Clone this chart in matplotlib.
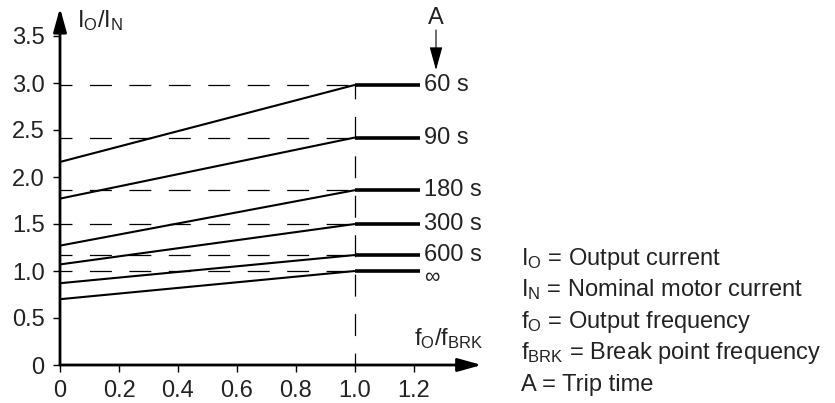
import matplotlib
matplotlib.use('Agg')
import matplotlib.pyplot as plt

plt.rcParams['font.family'] = ['Liberation Sans', 'DejaVu Sans']
plt.rcParams['mathtext.fontset'] = 'custom'
plt.rcParams['mathtext.rm'] = 'Liberation Sans'
plt.rcParams['mathtext.it'] = 'Liberation Sans:italic'
plt.rcParams['lines.scale_dashes'] = False

# ---- data ----
x_ticks = [0, 0.2, 0.4, 0.6, 0.8, 1.0, 1.2]
x_tick_labels = ['0', '0.2', '0.4', '0.6', '0.8', '1.0', '1.2']
y_ticks = [0, 0.5, 1.0, 1.5, 2.0, 2.5, 3.0, 3.5]
y_tick_labels = ['0', '0.5', '1.0', '1.5', '2.0', '2.5', '3.0', '3.5']

trip_labels = ['60 s', '90 s', '180 s', '300 s', '600 s', r'$\infty$']
start_ratio = [2.16, 1.77, 1.27, 1.07, 0.87, 0.70]   # I_O/I_N at f_O/f_BRK = 0
break_ratio = [2.98, 2.42, 1.86, 1.50, 1.17, 1.00]   # I_O/I_N at f_O/f_BRK >= 1
freq_start = 0.0
freq_break = 1.0
freq_end = 1.22

legend_lines = [r'$\mathregular{I_O}$ = Output current',
                r'$\mathregular{I_N}$ = Nominal motor current',
                r'$\mathregular{f_O}$ = Output frequency',
                r'$\mathregular{f_{BRK}}$ = Break point frequency',
                'A = Trip time']

FS = 17
W, H = 835, 403
fig = plt.figure(figsize=(W / 100, H / 100), dpi=100)
# axes: origin at pixel (60, 365); x 295 px/unit, y 94 px/unit
x_max = (481.7 - 60) / 295
y_max = (365 - 8) / 94
ax = fig.add_axes([60 / W, (H - 365) / H, (481.7 - 60) / W, (365 - 8) / H])
ax.set_xlim(0, x_max)
ax.set_ylim(0, y_max)
for s in ax.spines.values():
    s.set_visible(False)
ax.patch.set_visible(False)

ax.set_xticks(x_ticks, x_tick_labels)
ax.set_yticks(y_ticks, y_tick_labels)
ax.tick_params(axis='both', direction='out', length=5, width=1.0,
               labelsize=FS, color='black', labelcolor='#222222')
ax.tick_params(axis='x', pad=5.5)
ax.tick_params(axis='y', pad=6)

# axis arrows
arrow_kw = dict(arrowstyle='-|>,head_length=14.4,head_width=4', mutation_scale=1,
                lw=2, color='black', shrinkA=0, shrinkB=0)
ax.annotate('', xy=(0, y_max), xytext=(0, 0), arrowprops=arrow_kw,
            annotation_clip=False)
ax.annotate('', xy=(x_max, 0), xytext=(0, 0), arrowprops=arrow_kw,
            annotation_clip=False)

dash = (7.2, (15.8, 12.6))
# dashed reference lines
for yb in break_ratio:
    ax.plot([freq_start, freq_break], [yb, yb], color='black', lw=0.9,
            linestyle=dash, zorder=1, clip_on=False)
ax.plot([freq_break, freq_break], [0, max(break_ratio)], color='black', lw=0.9,
        linestyle=dash, zorder=1, clip_on=False)

# curves
for lab, y0, yb in zip(trip_labels, start_ratio, break_ratio):
    ax.plot([freq_start, freq_break], [y0, yb], color='black', lw=1.5,
            zorder=3, clip_on=False, solid_capstyle='butt')
    ax.plot([freq_break, freq_end], [yb, yb], color='black', lw=2.6,
            zorder=3, clip_on=False, solid_capstyle='butt')
    if lab.startswith('$'):
        ax.annotate(lab, (freq_end + 0.015, yb), xytext=(0, -3),
                    textcoords='offset points', fontsize=FS * 0.92,
                    va='center', ha='left', color='#222222')
    else:
        ax.text(freq_end + 0.015, yb, lab, fontsize=FS, va='center',
                ha='left', color='#222222')

# trip time arrow
ax.annotate('', xy=(1.2746, (365 - 70) / 94), xytext=(1.2746, (365 - 30) / 94),
            arrowprops=dict(arrowstyle='-|>,head_length=14.4,head_width=4',
                            mutation_scale=1, lw=0.8, color='black',
                            shrinkA=0, shrinkB=0),
            annotation_clip=False)
ax.text(1.2746, (365 - 18) / 94, 'A', fontsize=FS, ha='center', va='center',
        color='#222222')

# axis labels
ax.text(0.0576, (365 - 27) / 94, r'$\mathregular{I_O/I_N}$', fontsize=FS,
        ha='left', va='baseline', color='#222222')
ax.text(1.20, (365 - 345) / 94, r'$\mathregular{f_O/f_{BRK}}$', fontsize=FS,
        ha='left', va='baseline', color='#222222')

# legend text
baselines = [265, 296.5, 328, 359.5, 391]
for txt, b in zip(legend_lines, baselines):
    fig.text(521 / W, 1 - b / H, txt, fontsize=FS, ha='left', va='baseline',
             color='#222222')

fig.savefig('out.png', dpi=100)
